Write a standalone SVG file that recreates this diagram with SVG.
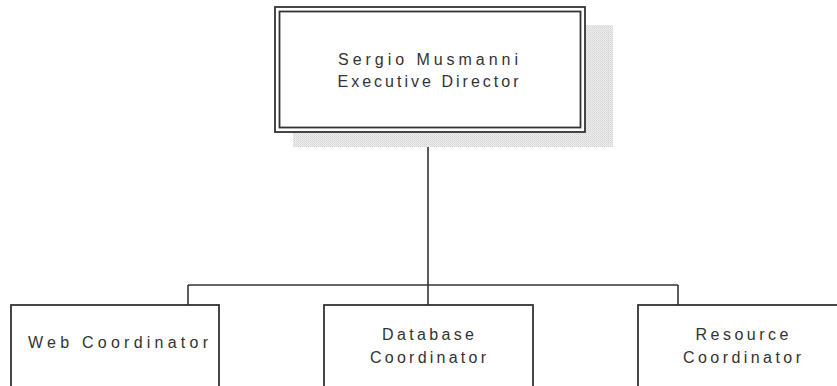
<svg xmlns="http://www.w3.org/2000/svg" width="837" height="386" viewBox="0 0 837 386">
  <defs>
    <!-- fine stipple used for the drop shadow -->
    <pattern id="stipple" width="2" height="2" patternUnits="userSpaceOnUse">
      <rect width="2" height="2" fill="#eeeeee"/>
      <rect width="1" height="1" fill="#d4d4d4"/>
      <rect x="1" y="1" width="1" height="1" fill="#dddddd"/>
    </pattern>
  </defs>
  <style>
    .box { fill: #ffffff; stroke: #333333; stroke-width: 1.8; }
    .link { fill: none; stroke: #333333; stroke-width: 1.6; }
    .label { font-family: "Liberation Sans", Arial, sans-serif; font-size: 16px; fill: #333333; text-anchor: middle; }
  </style>
  <rect width="837" height="386" fill="#ffffff"/>

  <!-- connectors -->
  <g id="connectors">
    <path class="link" d="M428 132 V305"/>
    <path class="link" d="M188 285 H678"/>
    <path class="link" d="M188 285 V305"/>
    <path class="link" d="M678 285 V305"/>
  </g>

  <!-- executive director -->
  <g id="director">
    <rect x="293" y="25" width="320" height="122" fill="url(#stipple)"/>
    <rect class="box" x="275" y="7" width="310" height="125"/>
    <rect class="box" x="279.5" y="11.5" width="301" height="116"/>
    <text class="label" x="428" y="65" textLength="180" lengthAdjust="spacing">Sergio Musmanni</text>
    <text class="label" x="428" y="87" textLength="181" lengthAdjust="spacing">Executive Director</text>
  </g>

  <!-- web coordinator -->
  <g id="web">
    <rect class="box" x="11" y="305" width="208" height="100"/>
    <text class="label" x="118" y="348" textLength="180" lengthAdjust="spacing">Web Coordinator</text>
  </g>

  <!-- database coordinator -->
  <g id="database">
    <rect class="box" x="324" y="305" width="209" height="100"/>
    <text class="label" x="428" y="340" textLength="92" lengthAdjust="spacing">Database</text>
    <text class="label" x="428" y="363" textLength="116" lengthAdjust="spacing">Coordinator</text>
  </g>

  <!-- resource coordinator -->
  <g id="resource">
    <rect class="box" x="638" y="305" width="209" height="100"/>
    <text class="label" x="742" y="340" textLength="93" lengthAdjust="spacing">Resource</text>
    <text class="label" x="742" y="363" textLength="118" lengthAdjust="spacing">Coordinator</text>
  </g>
</svg>
